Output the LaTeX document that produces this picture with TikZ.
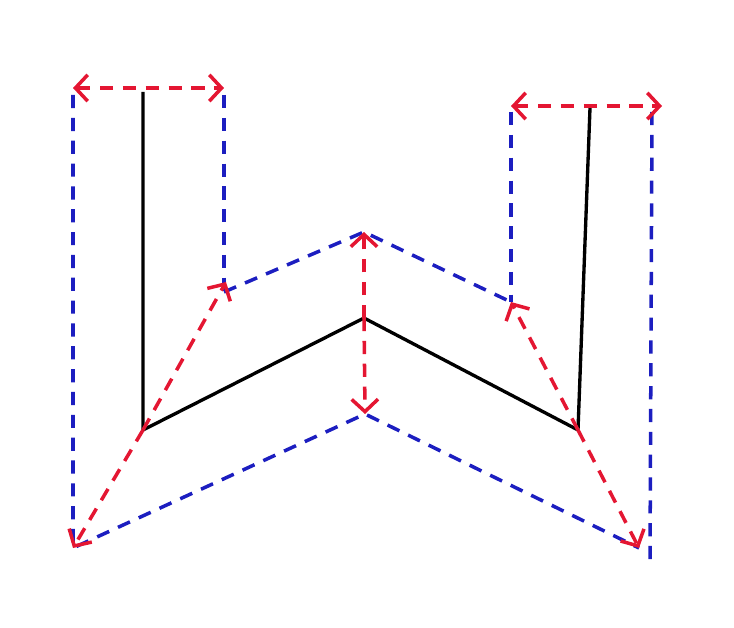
\documentclass[tikz,border=0pt]{standalone}
\usepackage{tikz}
\usetikzlibrary{arrows.meta}
\usepackage{xcolor}
\definecolor{dimred}{RGB}{228,22,50}
\definecolor{dimblue}{RGB}{28,30,192}
\tikzset{%
	skeleton/.style={
		black,
		line width=1.9pt
	},
	offset line/.style={
		dimblue,
		line width=2pt,
		dash pattern=on 7.5pt off 5.5pt
	},
	width arrow/.style={
		dimred,
		line width=2pt,
		dash pattern=on 7.5pt off 5.5pt,
		-{Straight Barb[length=7pt,width=15pt,line width=2pt]}
	},
	width arrows/.style={
		width arrow,
		{Straight Barb[length=7pt,width=15pt,line width=2pt]}-{Straight Barb[length=7pt,width=15pt,line width=2pt]}
	},
}
\begin{document}
\begin{tikzpicture}[x=0.02cm,y=-0.02cm]
			\useasboundingbox (0,0) rectangle (734,628);
			% Skeleton points
			\coordinate (lefttop) at (143,92);
			\coordinate (leftjoint) at (143,430);
			\coordinate (midjoint) at (364,318);
			\coordinate (rightjoint) at (578,430);
			\coordinate (righttop) at (590,108);
			
			% Offset points
			\coordinate (lefttopout) at (73,88);
			\coordinate (lefttopin) at (224,88);
			\coordinate (leftout) at (73,548);
			\coordinate (leftin) at (226,282);
			\coordinate (midin) at (364,232);
			\coordinate (midout) at (365,414);
			\coordinate (righttopin) at (511,106);
			\coordinate (righttopout) at (662,106);
			\coordinate (rightin) at (511,302);
			\coordinate (rightout) at (639,548);
			
			% Draw the skeleton
			\draw[skeleton] (lefttop) -- (leftjoint) -- (midjoint) -- (rightjoint) -- (righttop);
			
			% Draw the offset outline
			\draw[offset line] (73,95) -- (leftout) -- (midout) -- (rightout);
			\draw[offset line] (224,95) -- (224,300);
			\draw[offset line] (224,292) -- (midin) -- (rightin);
			\draw[offset line] (511,112) -- (rightin);
			\draw[offset line] (652,112) -- (650,562);
			
			% Draw the width arrows
			\draw[width arrows] (lefttopout) -- (lefttopin);
			\draw[width arrows] (righttopin) -- (righttopout);
			\draw[width arrow] (leftjoint) -- (leftout);
			\draw[width arrow] (leftjoint) -- (leftin);
			\draw[width arrow] (midjoint) -- (midin);
			\draw[width arrow] (midjoint) -- (midout);
			\draw[width arrow] (rightjoint) -- (rightin);
			\draw[width arrow] (rightjoint) -- (rightout);
		\end{tikzpicture}
\end{document}
